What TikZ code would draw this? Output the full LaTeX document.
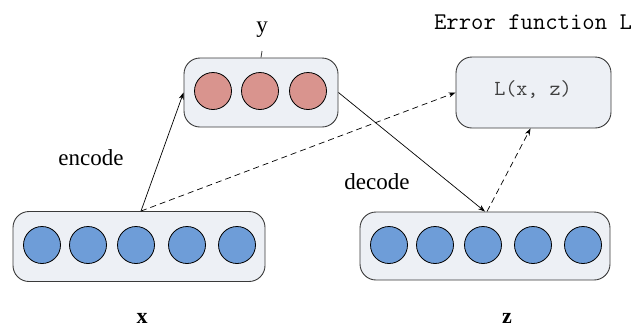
\documentclass[tikz,border=0pt]{standalone}
\usepackage{fontspec}
\setmainfont{Liberation Serif}
\usetikzlibrary{arrows.meta,calc}
\definecolor{panel}{HTML}{EDF0F5}
\definecolor{edge}{HTML}{3A3A3A}
\definecolor{unitblue}{HTML}{6E9DD8}
\definecolor{unitred}{HTML}{D9948E}
\definecolor{labelgray}{HTML}{404040}
\tikzset{
  layer/.style={draw=edge, fill=panel, rounded corners=16pt, line width=0.9pt, inner sep=0pt},
  unit/.style={circle, draw=black, line width=0.8pt, minimum size=37pt, inner sep=0pt},
  blueunit/.style={unit, fill=unitblue},
  redunit/.style={unit, fill=unitred},
  link/.style={line width=0.7pt, -{Stealth[length=7pt,width=5pt]}},
  dlink/.style={link, dash pattern=on 6pt off 4pt},
  word/.style={font=\fontsize{23}{26}\selectfont},
  mono/.style={font=\ttfamily\fontsize{24}{28}\selectfont}
}
\begin{document}
\begin{tikzpicture}[x=1pt,y=-1pt]
\useasboundingbox (0,0) rectangle (636,327);

% input layer x
\node[layer, minimum width=252pt, minimum height=70pt] (xbox) at (139,246.5) {};
\foreach \i/\cx in {1/42,2/88,3/136,4/187,5/237}
  \node[blueunit] (x\i) at (\cx,245) {};
\node[font=\bfseries\fontsize{22}{24}\selectfont] (xlab) at (142,318) {x};

% hidden layer y
\node[layer, minimum width=154pt, minimum height=69pt] (ybox) at (261,92.5) {};
\foreach \i/\cx in {1/213,2/260,3/308}
  \node[redunit] (y\i) at (\cx,91) {};
\node[word] (ylab) at (262,30) {y};
\coordinate (ytick) at (262,51);
\draw[edge, line width=0.8pt] (ybox.north) -- (ytick);

% reconstruction z
\node[layer, minimum width=250pt, minimum height=68pt] (zbox) at (485,246) {};
\foreach \i/\cx in {1/389,2/435,3/483,4/533,5/583}
  \node[blueunit] (z\i) at (\cx,245) {};
\node[font=\bfseries\fontsize{22}{24}\selectfont] (zlab) at (507,318) {z};

% error function
\node[layer, minimum width=155pt, minimum height=71pt] (lbox) at (533.5,92.5) {};
\node[mono, text=labelgray, font=\ttfamily\fontsize{21.5}{24}\selectfont] (ltext) at (533,90) {L(x, z)};
\node[mono] (errlab) at (533,22) {Error function L};

% connectors
\coordinate (xout) at ($(xbox.north)+(2,0)$);
\coordinate (zin) at ($(zbox.north)+(0,0)$);
\draw[link] (xout) -- (ybox.west);
\draw[link] (ybox.east) -- (zin);
\draw[dlink] (xout) -- (lbox.west);
\draw[dlink] ($(zbox.north)+(2,0)$) -- ($(lbox.south)+(-3,0)$);

\node[word] (enc) at (91,158) {encode};
\node[word] (dec) at (377,182) {decode};
\end{tikzpicture}
\end{document}
